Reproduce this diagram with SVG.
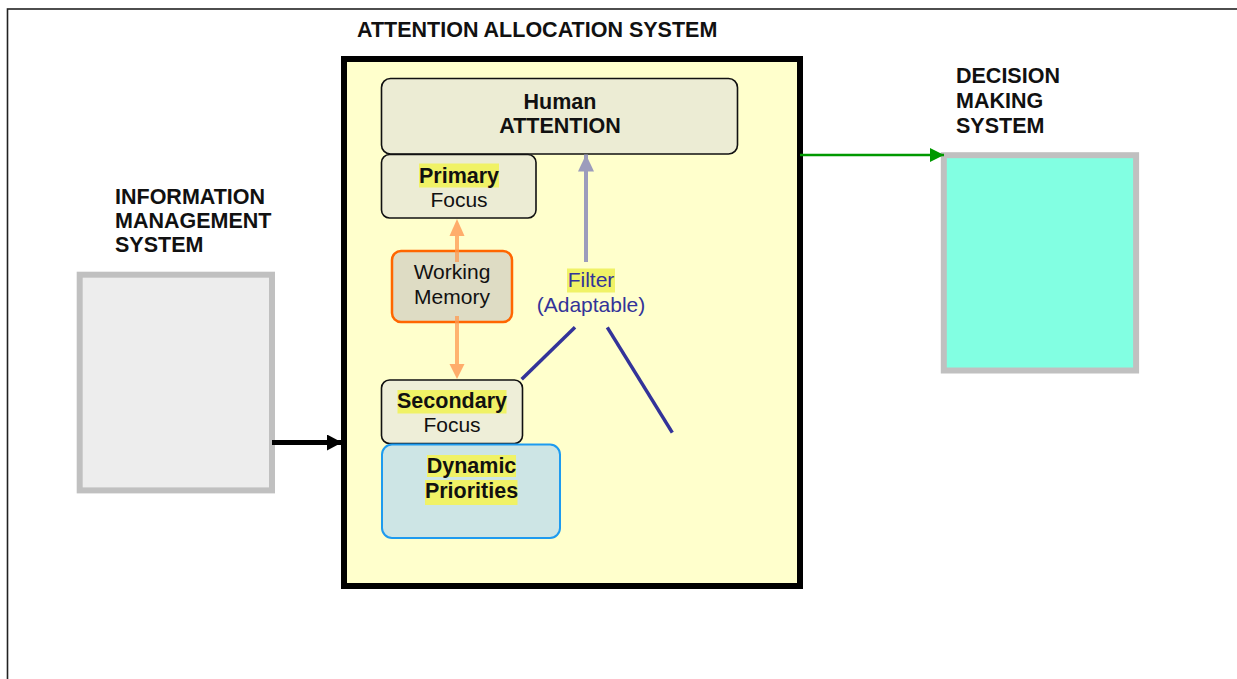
<svg xmlns="http://www.w3.org/2000/svg" width="1237" height="679" viewBox="0 0 1237 679">
  <style>
    text { font-family: "Liberation Sans", Arial, sans-serif; font-size: 21px; fill: #111; }
    .b { font-weight: bold; font-size: 21.5px; }
    .c { text-anchor: middle; }
    .hl { fill: #F0F266; }
    .box { stroke: #111; stroke-width: 1.6; }
    .sys { stroke: #C0C0C0; stroke-width: 6; }
    .blue { fill: #333399; }
  </style>
  <defs>
    <marker id="ahBlack" markerUnits="userSpaceOnUse" markerWidth="16" markerHeight="16" refX="15" refY="8" orient="auto">
      <path d="M0,0 L15,8 L0,16 Z" fill="#000"/>
    </marker>
    <marker id="ahGreen" markerUnits="userSpaceOnUse" markerWidth="15" markerHeight="14" refX="14" refY="7" orient="auto">
      <path d="M0,0 L14,7 L0,14 Z" fill="#009900"/>
    </marker>
    <marker id="ahGray" markerUnits="userSpaceOnUse" markerWidth="18" markerHeight="16" refX="17" refY="8" orient="auto">
      <path d="M0,0 L17,8 L0,16 Z" fill="#9C9CBC"/>
    </marker>
  </defs>

  <!-- page frame -->
  <rect x="7.5" y="9" width="1240" height="680" fill="#fff" stroke="#222" stroke-width="1.6"/>

  <!-- attention allocation system container -->
  <g id="attention-system">
    <text class="b" x="357" y="37">ATTENTION ALLOCATION SYSTEM</text>
    <rect x="344" y="59" width="456" height="527" fill="#FFFFCC" stroke="#000" stroke-width="6"/>
  </g>

  <g id="human-attention">
    <rect class="box" x="381.5" y="78.5" width="356" height="75.5" rx="9" fill="#ECECD4"/>
    <text class="b c" x="560" y="109">Human</text>
    <text class="b c" x="560" y="133">ATTENTION</text>
  </g>

  <g id="primary-focus">
    <rect class="box" x="381.5" y="154.5" width="154.5" height="63.5" rx="8" fill="#ECECD4"/>
    <rect class="hl" x="419" y="163.5" width="80" height="24"/>
    <text class="b c" x="459" y="183">Primary</text>
    <text class="c" x="459" y="207">Focus</text>
  </g>

  <g id="working-memory">
    <rect x="392" y="251" width="120" height="71" rx="9" fill="#DEDCC4" stroke="#FF6600" stroke-width="2.5"/>
    <text class="c" x="452" y="279">Working</text>
    <text class="c" x="452" y="304">Memory</text>
  </g>

  <g id="secondary-focus">
    <rect class="box" x="381.5" y="380" width="141" height="63.5" rx="8" fill="#EEEED8"/>
    <rect class="hl" x="397.5" y="390" width="109" height="23.5"/>
    <text class="b c" x="452" y="408">Secondary</text>
    <text class="c" x="452" y="432">Focus</text>
  </g>

  <g id="dynamic-priorities">
    <rect x="382" y="444.5" width="178" height="93.5" rx="10" fill="#CDE5E5" stroke="#1E9BEF" stroke-width="2"/>
    <rect class="hl" x="427" y="455" width="89" height="22"/>
    <rect class="hl" x="425" y="480" width="92.5" height="25"/>
    <text class="b c" x="471.5" y="473">Dynamic</text>
    <text class="b c" x="471.5" y="498">Priorities</text>
  </g>

  <g id="filter">
    <rect class="hl" x="567" y="268.5" width="48" height="24"/>
    <text class="c blue" x="591" y="287">Filter</text>
    <text class="c blue" x="591" y="312">(Adaptable)</text>
  </g>

  <!-- information management system -->
  <g id="information-management">
    <text class="b" x="115" y="204">INFORMATION</text>
    <text class="b" x="115" y="228">MANAGEMENT</text>
    <text class="b" x="115" y="252">SYSTEM</text>
    <rect class="sys" x="79.7" y="274.7" width="192.3" height="215.7" fill="#EDEDED"/>
  </g>

  <!-- decision making system -->
  <g id="decision-making">
    <text class="b" x="956" y="83">DECISION</text>
    <text class="b" x="956" y="108">MAKING</text>
    <text class="b" x="956" y="133">SYSTEM</text>
    <rect class="sys" x="943.8" y="155.2" width="192.3" height="215.3" fill="#82FFE2"/>
  </g>

  <!-- connectors -->
  <g id="connectors" fill="none">
    <line x1="272" y1="442.5" x2="342" y2="442.5" stroke="#000" stroke-width="5" marker-end="url(#ahBlack)"/>
    <line x1="800" y1="155" x2="944" y2="155" stroke="#009900" stroke-width="2.5" marker-end="url(#ahGreen)"/>
    <line x1="586" y1="262" x2="586" y2="154.5" stroke="#9C9CBC" stroke-width="4" marker-end="url(#ahGray)"/>
    <g stroke="#FF9A50" stroke-opacity="0.75" stroke-width="4">
      <line x1="457" y1="262" x2="457" y2="236"/>
      <line x1="457" y1="316" x2="457" y2="364"/>
    </g>
    <path d="M449.5,236 L457,219 L464.5,236 Z" fill="#FFAD6B"/>
    <path d="M449.5,364 L457,379 L464.5,364 Z" fill="#FFAD6B"/>
    <g stroke="#333399" stroke-width="3.5">
      <line x1="521.7" y1="379.3" x2="575" y2="327.3"/>
      <line x1="607.3" y1="327.3" x2="672.3" y2="432.7"/>
    </g>
  </g>
</svg>
